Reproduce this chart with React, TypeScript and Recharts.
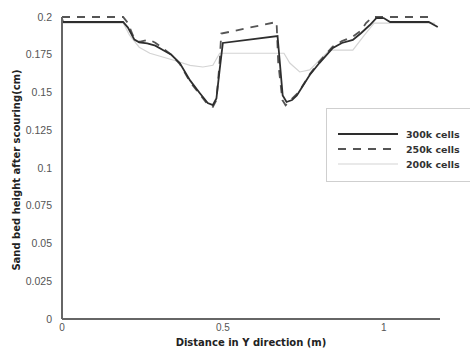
import React from 'react';
import { LineChart, Line, XAxis, YAxis } from 'recharts';

const x300 = [0, 0.003, 0.19, 0.205, 0.225, 0.24, 0.265, 0.29, 0.315, 0.34, 0.366, 0.398, 0.428, 0.453, 0.469, 0.48, 0.49, 0.5, 0.67, 0.686, 0.698, 0.715, 0.73, 0.77, 0.8, 0.842, 0.87, 0.904, 0.93, 0.957, 0.977, 1.0, 1.02, 1.14, 1.168];
const y300 = [0.199, 0.1967, 0.1967, 0.193, 0.185, 0.1832, 0.1825, 0.181, 0.178, 0.175, 0.1695, 0.158, 0.1497, 0.143, 0.1417, 0.146, 0.165, 0.1828, 0.1874, 0.148, 0.1437, 0.145, 0.148, 0.1616, 0.1695, 0.1795, 0.1828, 0.1848, 0.1894, 0.1947, 0.1993, 0.1993, 0.1967, 0.1967, 0.1934];

const x250 = [0, 0.19, 0.205, 0.22, 0.24, 0.27, 0.29, 0.315, 0.34, 0.366, 0.398, 0.428, 0.453, 0.469, 0.48, 0.49, 0.495, 0.667, 0.672, 0.685, 0.695, 0.715, 0.735, 0.77, 0.8, 0.842, 0.87, 0.904, 0.93, 0.945, 0.965, 1.15];
const y250 = [0.2, 0.2, 0.196, 0.188, 0.1835, 0.185, 0.183, 0.179, 0.175, 0.169, 0.157, 0.149, 0.142, 0.1405, 0.145, 0.17, 0.189, 0.1967, 0.17, 0.145, 0.1415, 0.146, 0.15, 0.162, 0.1705, 0.1805, 0.184, 0.187, 0.191, 0.196, 0.2, 0.2];

const x200 = [0, 0.19, 0.21, 0.24, 0.273, 0.345, 0.398, 0.438, 0.469, 0.49, 0.69, 0.708, 0.739, 0.77, 0.832, 0.904, 0.94, 0.97, 1.16];
const y200 = [0.196, 0.196, 0.188, 0.18, 0.176, 0.1715, 0.168, 0.1669, 0.168, 0.176, 0.176, 0.1695, 0.1636, 0.165, 0.178, 0.178, 0.188, 0.196, 0.196];

const xTicks = [0, 0.5, 1];
const yTicks = [0, 0.025, 0.05, 0.075, 0.1, 0.125, 0.15, 0.175, 0.2];
const seriesNames = ['300k cells', '250k cells', '200k cells'];

const toPoints = (xs: number[], ys: number[]) => xs.map((x, i) => ({ x, y: ys[i] }));
const d300 = toPoints(x300, y300);
const d250 = toPoints(x250, y250);
const d200 = toPoints(x200, y200);

const FONT = '"Liberation Sans", Arial, sans-serif';
const BOLD = '"DejaVu Sans", "Liberation Sans", sans-serif';

const LegendBox = () => {
  const styles = [
    { stroke: '#2e2e2e', dash: undefined, w: 1.8 },
    { stroke: '#555', dash: '8 7', w: 1.8 },
    { stroke: '#d4d4d4', dash: undefined, w: 1.2 },
  ];
  return (
    <div style={{ position: 'absolute', left: 326, top: 108, width: 150, height: 74, border: '1.5px solid #cfcfcf', background: '#fff', boxSizing: 'border-box' }}>
      {seriesNames.map((n, i) => (
        <div key={n} style={{ position: 'absolute', left: 11, top: 18 + i * 15, display: 'flex', alignItems: 'center', height: 14 }}>
          <svg width={60} height={6}>
            <line x1={0} y1={3} x2={60} y2={3} stroke={styles[i].stroke} strokeWidth={styles[i].w} strokeDasharray={styles[i].dash} />
          </svg>
          <span style={{ marginLeft: 8, fontFamily: BOLD, fontWeight: 'bold', fontSize: 9.5, color: '#333', whiteSpace: 'nowrap' }}>{n}</span>
        </div>
      ))}
    </div>
  );
};

export default function App() {
  return (
    <div style={{ position: 'absolute', left: 0, top: 0, width: 470, height: 349, background: '#fff', overflow: 'hidden' }}>
      <LineChart width={470} height={349} margin={{ top: 17, right: 30, bottom: 0, left: 22 }}>
        <XAxis
          type="number"
          dataKey="x"
          domain={[0, 1.175]}
          ticks={xTicks}
          tickFormatter={(v: number) => String(v)}
          tickLine={false}
          axisLine={{ stroke: '#666', strokeWidth: 2 }}
          tick={{ fontSize: 10, fill: '#555', fontFamily: FONT }}
          height={30}
          tickMargin={-1}
          allowDataOverflow
        />
        <YAxis
          type="number"
          dataKey="y"
          domain={[0, 0.2]}
          ticks={yTicks}
          tickFormatter={(v: number) => String(v)}
          tickLine={false}
          axisLine={{ stroke: '#666', strokeWidth: 2 }}
          tick={{ fontSize: 10.5, fill: '#555', fontFamily: FONT }}
          width={40}
          tickMargin={4}
        />
        <Line data={d200} dataKey="y" name={seriesNames[2]} stroke="#d4d4d4" strokeWidth={1.2} dot={false} isAnimationActive={false} />
        <Line data={d250} dataKey="y" name={seriesNames[1]} stroke="#555" strokeWidth={1.8} strokeDasharray="8 7" dot={false} isAnimationActive={false} />
        <Line data={d300} dataKey="y" name={seriesNames[0]} stroke="#2e2e2e" strokeWidth={1.8} dot={false} isAnimationActive={false} />
        <text x={251} y={346} textAnchor="middle" fontFamily={BOLD} fontWeight="bold" fontSize={10} fill="#222">Distance in Y direction (m)</text>
        <text x={20} y={170} textAnchor="middle" fontFamily={BOLD} fontWeight="bold" fontSize={10} fill="#222" transform="rotate(-90 20 170)">Sand bed height after scouring(cm)</text>
      </LineChart>
      <LegendBox />
    </div>
  );
}
